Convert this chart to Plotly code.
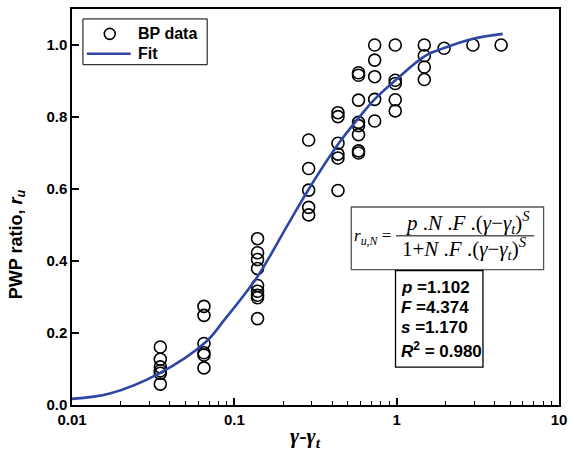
import plotly.graph_objects as go

# ---- data ----
col_x = [0.035, 0.065, 0.139, 0.287, 0.435, 0.582, 0.732, 0.98, 1.48, 1.96, 2.95, 4.4]
col_y = [
    [0.161, 0.127, 0.106, 0.095, 0.088, 0.058],
    [0.274, 0.249, 0.171, 0.145, 0.139, 0.103],
    [0.462, 0.423, 0.404, 0.379, 0.332, 0.316, 0.305, 0.298, 0.240],
    [0.736, 0.657, 0.597, 0.549, 0.528],
    [0.812, 0.801, 0.727, 0.697, 0.686, 0.596],
    [0.923, 0.916, 0.847, 0.785, 0.776, 0.751, 0.706, 0.700],
    [1.0, 0.958, 0.912, 0.849, 0.789],
    [1.0, 0.902, 0.893, 0.848, 0.817],
    [1.0, 0.970, 0.939, 0.904],
    [0.991],
    [1.0],
    [1.0],
]

fit_x = [0.01, 0.0171, 0.0345, 0.0667, 0.0863, 0.138, 0.215, 0.284, 0.44, 0.59,
         0.73, 0.97, 1.5, 2.0, 3.0, 4.5]
fit_y = [0.017, 0.032, 0.088, 0.175, 0.235, 0.355, 0.503, 0.596, 0.727, 0.80,
         0.849, 0.900, 0.970, 0.993, 1.018, 1.031]

x_tickvals = [0.01, 0.1, 1, 10]
x_ticktext = ["0.01", "0.1", "1", "10"]
y_tickvals = [0.0, 0.2, 0.4, 0.6, 0.8, 1.0]

legend_labels = ["BP data", "Fit"]
params_lines = ["<i>p</i> =1.102", "<i>F</i> =4.374", "<i>s</i> =1.170",
                "<i>R</i><sup>2</sup> = 0.980"]

# ---- layout geometry (pixels) ----
W, H = 574, 450
L, R, T, B = 72, 562, 7, 405
MARK_COLOR = "black"
FIT_COLOR = "#2f45a6"


def px(xp):
    return (xp - L) / (R - L)


def py(yp):
    return (B - yp) / (B - T)


bx = [x for x, ys in zip(col_x, col_y) for _ in ys]
by = [y for ys in col_y for y in ys]

fig = go.Figure()
fig.add_trace(go.Scatter(
    x=bx, y=by, mode="markers", name=legend_labels[0], showlegend=False,
    marker=dict(symbol="circle-open", size=12, color=MARK_COLOR,
                line=dict(width=1.6, color=MARK_COLOR)),
))
fig.add_trace(go.Scatter(
    x=fit_x, y=fit_y, mode="lines", name=legend_labels[1], showlegend=False,
    line=dict(color=FIT_COLOR, width=2.6, shape="spline", smoothing=1.0),
))

tickfont = dict(family="Liberation Sans, Arial", size=15, color="black", weight="bold")

minor_vals = [m * d for d in (0.01, 0.1, 1) for m in range(2, 10)]

fig.update_xaxes(
    type="log", range=[-2, 1],
    tickvals=x_tickvals, ticktext=x_ticktext,
    ticks="inside", ticklen=7, tickwidth=1.5, tickcolor="black",
    showline=True, linecolor="black", linewidth=1.5, mirror=True,
    showgrid=False, zeroline=False, tickfont=tickfont,
    minor=dict(tickvals=minor_vals, ticks="inside", ticklen=4, tickwidth=1.2,
               tickcolor="black", showgrid=False),
)
fig.update_yaxes(
    range=[0, 1.1], tickvals=y_tickvals, tickformat=".1f",
    ticks="inside", ticklen=7, tickwidth=1.5, tickcolor="black",
    showline=True, linecolor="black", linewidth=1.5, mirror=True,
    showgrid=False, zeroline=False, tickfont=tickfont,
)

ann = []
# axis titles
ann.append(dict(xref="paper", yref="paper", x=px(307), y=py(437),
                xanchor="center", yanchor="middle",
                text="<b><i>γ</i>-<i>γ</i><sub><i>t</i></sub></b>", showarrow=False,
                font=dict(family="Liberation Serif, Times New Roman", size=22, color="black")))
ann.append(dict(xref="paper", yref="paper", x=px(17), y=py(243),
                xanchor="center", yanchor="middle",
                text="<b>PWP ratio, <i>r</i><sub><i>u</i></sub></b>", textangle=-90,
                showarrow=False,
                font=dict(family="Liberation Sans, Arial", size=18, color="black")))

# legend (drawn)
lfont = dict(family="Liberation Sans, Arial", size=16, color="black", weight="bold")
ann.append(dict(xref="paper", yref="paper", x=px(136), y=py(32), text=legend_labels[0],
                showarrow=False, font=lfont, xanchor="left", yanchor="middle"))
ann.append(dict(xref="paper", yref="paper", x=px(136), y=py(52), text=legend_labels[1],
                showarrow=False, font=lfont, xanchor="left", yanchor="middle"))

# equation box
eqfont = dict(family="Liberation Serif, Times New Roman", size=17, color="black")
eqfont2 = dict(family="Liberation Serif, Times New Roman", size=21, color="black")
ann.append(dict(xref="paper", yref="paper", x=px(374), y=py(236),
                text="<i>r</i><sub><i>u,N</i></sub> =", showarrow=False, font=eqfont,
                xanchor="center", yanchor="middle"))
ann.append(dict(xref="paper", yref="paper", x=px(470), y=py(222),
                text="<i>p</i> .<i>N</i> .<i>F</i> .(<i>γ</i>−<i>γ</i><sub><i>t</i></sub>)<sup><i>S</i></sup>",
                showarrow=False, font=eqfont2, xanchor="center", yanchor="middle"))
ann.append(dict(xref="paper", yref="paper", x=px(467), y=py(248),
                text="1+<i>N</i> .<i>F</i> .(<i>γ</i>−<i>γ</i><sub><i>t</i></sub>)<sup><i>S</i></sup>",
                showarrow=False, font=eqfont2, xanchor="center", yanchor="middle"))

# params box
pfont = dict(family="Liberation Sans, Arial", size=17, color="black", weight="bold")
for i, t in enumerate(params_lines):
    ann.append(dict(xref="paper", yref="paper", x=px(401), y=py([287, 307, 327, 350][i]),
                    text=t, showarrow=False, font=pfont, xanchor="left", yanchor="middle"))

shapes = [
    # legend frame and samples
    dict(type="rect", xref="paper", yref="paper", x0=px(83), x1=px(208),
         y0=py(63), y1=py(17), line=dict(color="black", width=1), fillcolor="white"),
    dict(type="circle", xref="paper", yref="paper", x0=px(104.5), x1=px(115.5),
         y0=py(37.5), y1=py(26.5), line=dict(color=MARK_COLOR, width=1.6)),
    dict(type="line", xref="paper", yref="paper", x0=px(87), x1=px(131),
         y0=py(52), y1=py(52), line=dict(color=FIT_COLOR, width=2.6)),
    # equation box
    dict(type="rect", xref="paper", yref="paper", x0=px(353), x1=px(546.5),
         y0=py(269), y1=py(206), line=dict(color="#555555", width=1.3)),
    dict(type="line", xref="paper", yref="paper", x0=px(398), x1=px(537),
         y0=py(235), y1=py(235), line=dict(color="black", width=1)),
    # params box
    dict(type="rect", xref="paper", yref="paper", x0=px(397.5), x1=px(485.5),
         y0=py(367), y1=py(270), line=dict(color="black", width=1.3)),
]

fig.update_layout(
    width=W, height=H,
    margin=dict(l=L, r=W - R, t=T, b=H - B, pad=0),
    paper_bgcolor="white", plot_bgcolor="white",
    showlegend=False,
    annotations=ann, shapes=shapes,
)

fig.write_html("out.html")
